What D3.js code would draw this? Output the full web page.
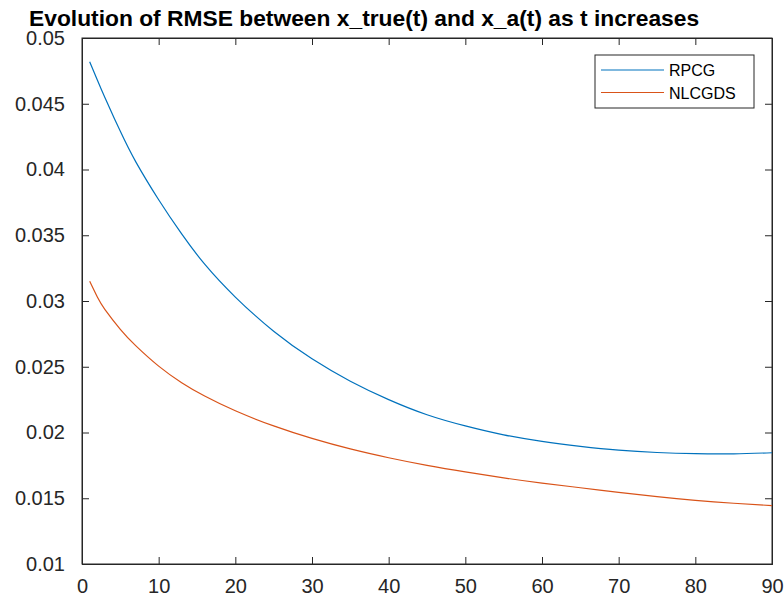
<!DOCTYPE html>
<html>
<head>
<meta charset="utf-8">
<script src="https://cdn.jsdelivr.net/npm/d3@7"></script>
<style>
  body { margin: 0; background: #fff; }
  text { font-family: "Liberation Sans", Arial, sans-serif; }
</style>
</head>
<body>
<svg id="chart"></svg>
<script>
// data
var tValues = [1, 2, 3, 5, 7, 10, 13, 16, 20, 25, 30, 35, 40, 45, 50, 55, 60, 65, 70, 75, 80, 85, 90];
var rpcg    = [0.0482, 0.0468, 0.04545, 0.0429, 0.0406, 0.0377, 0.0351, 0.0328, 0.0303, 0.0277, 0.0256,
               0.0239, 0.0225, 0.02135, 0.0205, 0.01982, 0.01932, 0.01895, 0.01866, 0.01848, 0.01839, 0.01838, 0.01846];
var nlcgds  = [0.0315, 0.0303, 0.02935, 0.02785, 0.02661, 0.02505, 0.02379, 0.02277, 0.02165, 0.0205, 0.01955,
               0.01875, 0.01808, 0.0175, 0.017, 0.01655, 0.01615, 0.0158, 0.01545, 0.01512, 0.01484, 0.01462, 0.01444];
var seriesNames = ["RPCG", "NLCGDS"];
var xTicks = [0, 10, 20, 30, 40, 50, 60, 70, 80, 90];
var yTicks = [0.01, 0.015, 0.02, 0.025, 0.03, 0.035, 0.04, 0.045, 0.05];
var yTickLabels = ["0.01", "0.015", "0.02", "0.025", "0.03", "0.035", "0.04", "0.045", "0.05"];
var title = "Evolution of RMSE between x_true(t) and x_a(t) as t increases";

var colors = ["#0072BD", "#D95319"];
var margin = {top: 38, right: 12, bottom: 34, left: 82},
    full_width = 784,
    full_height = 598,
    width = full_width - margin.left - margin.right,
    height = full_height - margin.top - margin.bottom;

var svg = d3.select("#chart")
    .attr("width", full_width)
    .attr("height", full_height),
  g = svg.append("g").attr("transform", "translate(" + margin.left + "," + margin.top + ")");

var x = d3.scaleLinear().domain([0, 90]).range([0, width]);
var y = d3.scaleLinear().domain([0.01, 0.05]).range([height, 0]);

var axisColor = "#262626";
var tickLen = 7;

// axes with inward ticks, mirrored on top and right
var xb = g.append("g").attr("transform", "translate(0," + height + ")")
  .call(d3.axisBottom(x).tickValues(xTicks).tickSize(-tickLen).tickPadding(tickLen + 8));
var xt = g.append("g")
  .call(d3.axisTop(x).tickValues(xTicks).tickSize(-tickLen).tickFormat(""));
var yl = g.append("g")
  .call(d3.axisLeft(y).tickValues(yTicks).tickSize(-tickLen).tickPadding(tickLen + 10)
    .tickFormat(function(d, i) { return yTickLabels[i]; }));
var yr = g.append("g").attr("transform", "translate(" + width + ",0)")
  .call(d3.axisRight(y).tickValues(yTicks).tickSize(-tickLen).tickFormat(""));

[xb, xt, yl, yr].forEach(function(a) {
  a.select(".domain").attr("stroke", axisColor).attr("stroke-width", 1);
  a.selectAll(".tick line").attr("stroke", axisColor).attr("stroke-width", 1);
  a.selectAll(".tick text").attr("fill", axisColor)
    .style("font-size", "20px").style("font-family", "'Liberation Sans', Arial, sans-serif");
});
// box outline
g.append("rect").attr("width", width).attr("height", height)
  .attr("fill", "none").attr("stroke", axisColor).attr("stroke-width", 1);

var line = d3.line()
  .curve(d3.curveNatural)
  .x(function(d) { return x(d.t); })
  .y(function(d) { return y(d.v); });

[rpcg, nlcgds].forEach(function(vals, i) {
  var data = tValues.map(function(t, j) { return {t: t, v: vals[j]}; });
  g.append("path")
    .datum(data)
    .attr("fill", "none")
    .attr("stroke", colors[i])
    .attr("stroke-width", 1.2)
    .attr("d", line);
});

// title
svg.append("text")
  .attr("x", 29).attr("y", 26)
  .style("font-size", "22.8px").style("font-weight", "bold")
  .attr("fill", "#000")
  .text(title);

// legend
var lg = svg.append("g").attr("transform", "translate(595,55)");
lg.append("rect").attr("width", 159).attr("height", 53)
  .attr("fill", "#fff").attr("stroke", axisColor).attr("stroke-width", 1);
seriesNames.forEach(function(name, i) {
  var yy = 15 + i * 22.5;
  lg.append("line").attr("x1", 6).attr("x2", 69).attr("y1", yy).attr("y2", yy)
    .attr("stroke", colors[i]).attr("stroke-width", 1.2);
  lg.append("text").attr("x", 74).attr("y", yy + 6)
    .style("font-size", "16px").attr("fill", "#000").text(name);
});
</script>
</body>
</html>
